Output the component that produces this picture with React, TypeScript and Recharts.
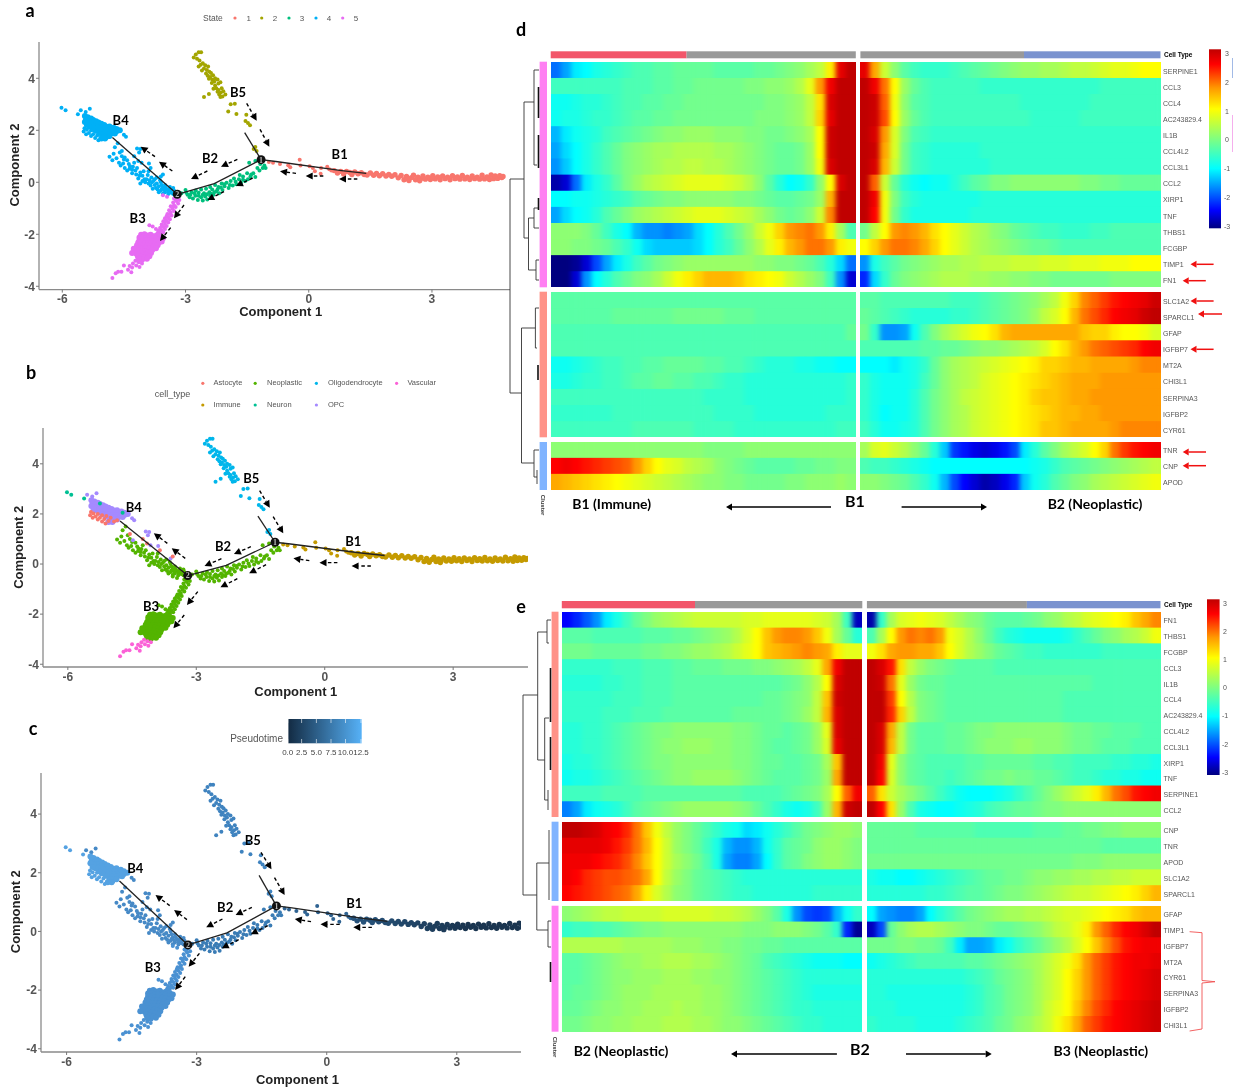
import React from "react";
import {
  ScatterChart,
  Scatter,
  XAxis,
  YAxis,
  ReferenceDot,
} from "recharts";

type Pair = [number, number];

// ---- trajectory cells, [component 1, component 2] ----
const b1Ribbon: Pair[] = [
  [0.62,0.45],[0.7,0.36],[0.78,0.42],[0.85,0.32],[0.92,0.42],[1.0,0.38],[1.05,0.3],[1.12,0.4],[1.2,0.33],[1.28,0.37],
  [1.35,0.3],[1.42,0.28],[1.5,0.36],[1.58,0.27],[1.65,0.34],[1.72,0.25],[1.8,0.33],[1.88,0.24],[1.95,0.3],[2.02,0.23],
  [2.1,0.29],[2.18,0.17],[2.25,0.26],[2.32,0.1],[2.38,0.22],[2.44,0.07],[2.5,0.18],[2.55,0.27],[2.6,0.1],[2.66,0.2],
  [2.72,0.13],[2.78,0.24],[2.84,0.12],[2.9,0.2],[2.96,0.11],[3.02,0.25],[3.08,0.13],[3.14,0.21],[3.2,0.1],[3.26,0.24],
  [3.32,0.14],[3.38,0.2],[3.44,0.1],[3.5,0.25],[3.56,0.14],[3.62,0.21],[3.68,0.12],[3.74,0.26],[3.8,0.13],[3.86,0.2],
  [3.92,0.11],[3.98,0.24],[4.04,0.14],[4.1,0.2],[4.16,0.12],[4.22,0.27],[4.28,0.13],[4.34,0.21],[4.4,0.11],[4.44,0.28],
  [4.5,0.14],[4.54,0.24],[4.6,0.15],[4.65,0.25],[4.7,0.18],[4.73,0.22],[2.4,0.14],[2.7,0.06],[3.0,0.17],[3.6,0.17],
];
const b1Sparse: Pair[] = [
  [-0.97,0.78],[-0.87,0.75],[-0.7,0.7],[-0.5,0.66],[-0.45,0.58],[-0.22,0.87],[-0.2,0.65],[0.02,0.62],[0.1,0.55],[0.15,0.42],
  [0.29,0.33],[0.3,0.55],[0.45,0.6],[0.5,0.5],[0.55,0.45],
];
const b5Top: Pair[] = [
  [-2.8,4.8],[-2.75,4.92],[-2.68,5],[-2.62,5],[-2.72,4.75],[-2.66,4.68],[-2.63,4.52],[-2.68,4.45],[-2.58,4.58],[-2.52,4.5],
  [-2.55,4.38],[-2.6,4.3],[-2.48,4.32],[-2.45,4.45],[-2.42,4.25],[-2.5,4.18],[-2.46,4.1],[-2.4,4.05],[-2.38,4.2],[-2.33,4.12],
  [-2.43,3.98],[-2.35,3.95],[-2.3,3.88],[-2.28,4],[-2.22,3.95],[-2.36,3.82],[-2.28,3.72],[-2.2,3.8],[-2.15,3.85],[-2.25,3.62],
  [-2.32,3.6],[-2.2,3.55],[-2.12,3.62],[-2.22,3.48],[-2.14,3.45],[-2.08,3.5],[-2.18,3.38],[-2.1,3.3],[-2.03,3.38],[-2.15,3.28],
  [-2.55,3.28],[-2.43,3.4],
];
const b5Sparse: Pair[] = [
  [-1.9,3],[-1.8,3.02],[-1.96,2.72],[-1.76,2.63],[-1.52,2.6],[-1.54,2.36],[-1.43,2.19],[-1.48,2.28],[-1.3,1.36],[-1.27,1.2],[-1.34,1.28],
];
const b4Dense: Pair[] = [
  [-5.45,2.55],[-5.38,2.5],[-5.42,2.42],[-5.35,2.38],[-5.3,2.45],[-5.25,2.4],[-5.32,2.28],[-5.25,2.3],[-5.18,2.35],[-5.12,2.3],
  [-5.2,2.22],[-5.12,2.2],[-5.05,2.25],[-4.98,2.2],[-5.05,2.12],[-4.92,2.14],[-4.85,2.15],[-4.98,2.05],[-4.9,2.05],[-4.82,2.06],
  [-4.75,2.1],[-4.68,2.05],[-4.6,2],[-4.75,2],[-4.68,1.96],[-4.84,1.95],[-4.92,1.95],[-5,1.95],[-5.08,2],[-5.15,2.1],
  [-5.28,2.18],[-5.38,2.28],[-5.45,2.32],[-5.02,1.85],[-4.94,1.86],[-4.86,1.86],[-4.78,1.9],[-4.72,1.88],[-5,1.76],[-4.92,1.78],
  [-4.85,1.78],[-5.1,1.9],[-5.18,1.98],[-5.25,2.05],[-5.33,2.15],[-5.4,2.2],[-5.05,1.68],[-4.96,1.68],
];
const b4Lower: Pair[] = [
  [-5.48,1.95],[-5.46,2.08],[-5.4,2.02],[-5.35,1.9],[-5.3,2],[-5.25,1.85],[-5.2,1.95],[-5.15,1.8],[-5.1,1.92],[-5.05,1.72],
  [-5,1.85],[-4.92,1.7],[-4.85,1.75],[-5.3,1.78],[-5.42,1.85],[-5.2,1.7],[-5.12,1.62],
];
const b4OnPath: Pair[] = [[-4.55,1.2],[-4.15,0.82],[-3.85,0.55],[-3.55,0.3],[-4.25,1]];
const b4Neuron: Pair[] = [[-6.02,2.87],[-5.92,2.77],[-5.62,2.62],[-5.25,2.42],[-4.72,2.05]];
const b4Opc: Pair[] = [
  [-5.55,2.77],[-5.33,2.83],[-5.43,2.7],[-4.5,1.83],[-4.45,1.75],[-4.18,1.3],[-4.1,1.28],[-4.13,1.15],[-4.07,0.75],[-3.89,0.72],
  [-4.48,0.95],[-3.6,0.22],
];
const b4Spread: Pair[] = [
  [-4.72,1.35],[-4.65,1.5],[-4.75,1.1],[-4.85,0.98],[-4.78,0.85],[-4.68,0.92],[-4.6,1.15],[-4.55,1],[-4.5,0.88],[-4.62,0.75],
  [-4.52,0.72],[-4.42,0.85],[-4.38,0.7],[-4.48,0.55],[-4.36,0.52],[-4.28,0.6],[-4.22,0.45],[-4.3,0.35],[-4.2,0.3],[-4.1,0.38],
  [-4.05,0.25],[-4.15,0.15],[-4,0.12],[-3.92,0.28],[-3.88,0.08],[-3.98,0],[-3.82,0],[-3.75,0.12],[-3.7,-0.05],[-3.85,-0.12],
  [-3.65,-0.15],[-3.6,0],[-3.55,-0.2],[-3.72,-0.22],[-3.5,-0.1],[-3.45,-0.28],[-3.6,-0.32],[-3.38,-0.18],[-3.35,-0.4],[-3.5,-0.38],
  [-3.28,-0.32],[-3.42,-0.45],[-3.25,-0.5],[-3.65,-0.38],[-3.55,-0.44],[-3.8,-0.25],[-4.1,-0.05],[-4.02,0.42],[-3.9,0.42],[-4.25,0.75],
  [-3.4,-0.28],[-3.3,-0.22],[-3.48,-0.2],[-3.58,-0.1],[-3.68,-0.28],[-3.42,-0.35],[-3.75,-0.1],[-3.62,0.08],[-3.78,0.05],[-3.9,-0.05],
  [-3.95,0.12],[-4.05,0.05],[-4.12,0.25],[-3.83,0.18],[-3.7,0.18],[-3.52,-0.3],[-3.35,-0.3],[-3.3,-0.45],[-3.58,-0.26],[-4.35,0.62],
  [-4.42,0.45],[-4.58,0.65],[-4.3,0.48],[-4.18,0.55],
];
const b2Pts: Pair[] = [
  [-3.1,-0.42],[-3,-0.3],[-2.95,-0.48],[-2.9,-0.58],[-2.85,-0.38],[-2.82,-0.62],[-2.75,-0.32],[-2.76,-0.52],[-2.7,-0.68],[-2.68,-0.4],
  [-2.62,-0.28],[-2.62,-0.58],[-2.58,-0.7],[-2.55,-0.42],[-2.5,-0.25],[-2.52,-0.55],[-2.47,-0.66],[-2.42,-0.38],[-2.4,-0.18],[-2.4,-0.52],
  [-2.35,-0.28],[-2.32,-0.48],[-2.28,-0.1],[-2.25,-0.35],[-2.2,-0.18],[-2.18,-0.42],[-2.12,-0.05],[-2.1,-0.3],[-2.05,-0.15],[-2,-0.02],
  [-1.95,-0.22],[-1.9,0.05],[-1.85,-0.12],[-1.82,0.15],[-1.78,0.02],[-1.7,0.12],[-1.68,0.28],[-1.65,-0.02],[-1.6,0.22],[-1.55,0.05],
  [-1.5,0.35],[-1.42,0.22],[-1.35,0.35],[-1.3,0.2],[-1.45,0.75],[-1.25,0.55],[-1.2,0.45],[-1.12,0.55],[-1.08,0.65],[-1.18,0.7],[-1.3,0.82],[-1.05,0.55],
  [-2.98,-0.4],[-2.88,-0.48],[-2.78,-0.42],[-2.68,-0.52],[-2.58,-0.48],[-2.48,-0.46],[-2.38,-0.44],[-2.3,-0.38],[-2.22,-0.28],[-2.14,-0.2],
  [-2.06,-0.08],[-1.92,-0.1],[-1.76,-0.08],[-1.6,0.1],[-1.48,0.12],[-1.4,0.3],
];
const b3Stem: Pair[] = [
  [-3.2,-0.58],[-3.28,-0.62],[-3.15,-0.68],[-3.22,-0.72],[-3.3,-0.78],[-3.18,-0.82],[-3.28,-0.88],[-3.36,-0.92],[-3.24,-0.95],[-3.32,-1.02],
  [-3.4,-1.08],[-3.28,-1.1],[-3.36,-1.16],[-3.44,-1.22],[-3.34,-1.28],[-3.42,-1.34],[-3.5,-1.38],[-3.38,-1.42],[-3.46,-1.48],[-3.54,-1.5],
  [-3.42,-1.55],[-3.5,-1.6],[-3.58,-1.62],[-3.46,-1.68],[-3.54,-1.72],[-3.62,-1.76],[-3.5,-1.8],[-3.58,-1.85],[-3.66,-1.86],[-3.54,-1.92],
  [-3.62,-1.96],[-3.72,-1.8],[-3.8,-1.7],[-3.88,-1.65],[-3.45,-0.56],[-3.55,-0.5],[-3.24,-0.66],[-3.32,-0.95],[-3.38,-1.22],[-3.46,-1.3],
  [-3.5,-1.5],[-3.58,-1.7],[-3.6,-1.9],[-3.68,-1.95],
];
const b3Dense: Pair[] = [
  [-4.08,-2.02],[-4,-2],[-3.92,-2.05],[-3.85,-2.02],[-3.78,-2.08],[-3.7,-2.05],[-3.62,-2.1],[-3.55,-2.15],[-4.12,-2.12],[-4.04,-2.12],
  [-3.96,-2.14],[-3.88,-2.14],[-3.8,-2.16],[-3.72,-2.16],[-3.64,-2.2],[-3.58,-2.28],[-4.12,-2.22],[-4.04,-2.22],[-3.96,-2.24],[-3.88,-2.24],
  [-3.8,-2.26],[-3.72,-2.28],[-3.65,-2.32],[-4.15,-2.32],[-4.07,-2.32],[-3.99,-2.34],[-3.91,-2.34],[-3.83,-2.36],[-3.75,-2.38],[-3.68,-2.42],
  [-4.18,-2.42],[-4.1,-2.42],[-4.02,-2.44],[-3.94,-2.44],[-3.86,-2.46],[-3.78,-2.48],[-3.72,-2.54],[-4.2,-2.54],[-4.12,-2.52],[-4.05,-2.54],
  [-3.97,-2.54],[-3.89,-2.56],[-3.81,-2.6],[-4.22,-2.64],[-4.14,-2.62],[-4.06,-2.64],[-3.98,-2.66],[-3.9,-2.68],[-3.84,-2.72],[-4.2,-2.74],
  [-4.12,-2.72],[-4.04,-2.76],[-3.96,-2.78],[-3.88,-2.84],[-4.16,-2.84],[-4.08,-2.86],[-4,-2.9],[-3.94,-2.94],[-4.06,-2.98],[-4.14,-2.94],
  [-4.26,-2.56],[-4.3,-2.72],
];
const b3Tail: Pair[] = [
  [-4.78,-3.68],[-4.7,-3.5],[-4.64,-3.44],[-4.5,-3.2],[-4.56,-3.44],[-4.4,-3.36],[-4.32,-3.46],[-4.36,-3.22],[-4.3,-3.28],[-4.28,-3.12],
  [-4.22,-3.02],[-4.2,-3.2],[-4.14,-3.08],[-4.06,-3.12],[-4.12,-3.26],
];

// principal graph
const graphB1: Pair[] = [[-1.16,0.87],[-0.8,0.8],[0.8,0.45],[1.4,0.34]];
const graphB2: Pair[] = [[-1.16,0.87],[-2.3,-0.05],[-3.2,-0.46]];
const graphB4: Pair[] = [[-3.2,-0.46],[-4.78,1.72]];
const graphB5: Pair[] = [[-1.16,0.87],[-1.56,1.91]];

const compTicksX = [-6, -3, 0, 3];
const compTicksY = [-4, -2, 0, 2, 4];

// ---- heatmap d, three gene clusters, left and right of the branch point ----
const dGenes1 = ["SERPINE1","CCL3","CCL4","AC243829.4","IL1B","CCL4L2","CCL3L1","CCL2","XIRP1","TNF","THBS1","FCGBP","TIMP1","FN1"];
const dGenes2 = ["SLC1A2","SPARCL1","GFAP","IGFBP7","MT2A","CHI3L1","SERPINA3","IGFBP2","CYR61"];
const dGenes3 = ["TNR","CNP","APOD"];

const d1Left = [
  [-1.8,-1.5,-1.1,-1,-.8,-.7,-.6,-.5,-.4,-.4,-.3,-.3,-.2,-.2,-.2,-.2,-.3,-.3,-.3,-.3,-.2,-.2,-.1,0,.1,.3,.5,1.1,2.7,3],
  [-.5,-.5,-.5,-.5,-.5,-.5,-.5,-.4,-.4,-.4,-.3,-.3,-.2,-.2,-.1,-.1,-.1,-.1,-.1,0,0,.1,.1,.2,.4,.8,1.7,2.6,3,3],
  [-.9,-.9,-.8,-.7,-.7,-.6,-.5,-.4,-.4,-.3,-.3,-.2,-.2,-.1,-.1,-.1,-.1,-.1,-.1,-.1,-.1,0,0,.1,.2,.5,1.2,2.8,3,3],
  [-.9,-.8,-.8,-.7,-.6,-.6,-.5,-.4,-.3,-.3,-.2,-.2,-.1,-.1,-.1,-.1,-.1,-.1,-.1,-.1,0,0,0,.1,.2,.5,1.3,2.7,3,3],
  [-1.4,-1.1,-.9,-.8,-.7,-.5,-.4,-.3,-.2,-.1,0,.1,.1,.2,.2,.2,.1,.1,.1,0,0,-.1,-.1,0,.1,.3,1,2.9,3,3],
  [-1.5,-1.2,-1,-.8,-.6,-.4,-.2,0,.1,.2,.3,.3,.4,.4,.4,.4,.3,.3,.2,.1,0,-.1,-.2,-.2,-.1,.2,1,2.9,3,3],
  [-1.6,-1.3,-1,-.8,-.6,-.4,-.2,0,.1,.2,.3,.4,.4,.5,.5,.4,.4,.3,.2,.1,0,-.1,-.2,-.2,-.1,.2,.9,2.8,3,3],
  [-2.8,-2.6,-1.8,-1.1,-.8,-.6,-.3,0,.2,.4,.5,.6,.7,.8,.8,.8,.8,.7,.6,.4,.1,-.3,-.7,-1,-.9,-.6,.1,1,2.8,3],
  [-1,-1,-.9,-.9,-.8,-.7,-.6,-.5,-.3,-.2,-.1,0,0,.1,.1,.1,.1,.1,0,0,-.1,-.2,-.3,-.3,-.2,-.1,.2,1.5,3,3],
  [-1.5,-1.2,-1,-.9,-.7,-.4,-.2,0,.2,.3,.4,.5,.6,.7,.8,.8,.8,.7,.6,.5,.3,.1,-.1,-.2,-.1,.1,.6,1.8,3,3],
  [.1,.1,.1,0,-.2,-.5,-.8,-1,-1.4,-1.6,-1.6,-1.7,-1.6,-1.5,-1.2,-1,-.7,-.4,-.1,.2,.6,.9,1.3,1.7,1.8,1.9,1.7,1.1,.3,-.4],
  [.1,.1,0,0,-.1,-.2,-.4,-.6,-.9,-1.2,-1.3,-1.3,-1.3,-1.3,-1.2,-1,-.7,-.5,-.2,.1,.4,.8,1.1,1.5,1.7,1.9,1.9,1.7,1.1,.9],
  [-3,-3,-2.9,-2.6,-2,-1.5,-1.1,-.8,-.5,-.3,-.1,0,.1,.2,.2,.2,.2,.2,.2,.2,.1,.1,0,0,-.1,-.2,-.4,-.7,-1.2,-1.8],
  [-3,-3,-2.6,-1.6,-1,-.7,-.4,-.2,0,.1,.3,.6,.9,1.1,1.3,1.5,1.5,1.5,1.4,1.2,1.1,1,.9,.6,.4,.2,0,-.5,-1.6,-2.6],
];
const d1Right = [
  [2.7,1.6,.6,.1,-.3,-.5,-.6,-.6,-.6,-.5,-.4,-.3,-.2,-.1,0,.1,.2,.2,.3,.3,.4,.5,.5,.6,.7,.8,.8,.9,1,1],
  [3,2.6,1.9,1,.2,-.2,-.4,-.5,-.5,-.5,-.5,-.5,-.6,-.6,-.6,-.6,-.6,-.6,-.6,-.6,-.6,-.6,-.6,-.6,-.5,-.5,-.5,-.5,-.5,-.5],
  [3,2.9,2,.9,.1,-.3,-.4,-.5,-.5,-.5,-.5,-.5,-.5,-.5,-.5,-.5,-.6,-.6,-.6,-.6,-.6,-.6,-.6,-.5,-.5,-.5,-.5,-.5,-.5,-.5],
  [3,2.9,2.1,1,.2,-.2,-.4,-.5,-.5,-.5,-.5,-.5,-.5,-.5,-.5,-.5,-.5,-.6,-.6,-.6,-.6,-.6,-.5,-.5,-.5,-.5,-.5,-.5,-.5,-.5],
  [3,2.8,1.7,.7,0,-.4,-.5,-.6,-.6,-.6,-.6,-.6,-.6,-.6,-.6,-.6,-.6,-.6,-.6,-.6,-.6,-.6,-.6,-.6,-.6,-.6,-.6,-.6,-.6,-.6],
  [3,2.9,1.6,.7,-.1,-.5,-.6,-.7,-.7,-.7,-.7,-.7,-.6,-.6,-.6,-.6,-.6,-.6,-.6,-.6,-.6,-.6,-.6,-.6,-.6,-.6,-.6,-.6,-.6,-.6],
  [3,2.8,1.5,.6,-.1,-.5,-.6,-.7,-.7,-.7,-.7,-.7,-.7,-.6,-.6,-.6,-.6,-.6,-.6,-.6,-.6,-.6,-.6,-.6,-.6,-.6,-.6,-.6,-.6,-.6],
  [3,2,.6,-.2,-.7,-.9,-1,-.9,-.9,-.7,-.5,-.3,-.2,0,0,.1,.1,.1,.1,.1,.1,.1,0,0,-.1,-.1,-.2,-.2,-.2,-.2],
  [3,2.6,.9,0,-.5,-.7,-.8,-.8,-.8,-.8,-.8,-.8,-.7,-.7,-.7,-.7,-.7,-.7,-.7,-.7,-.7,-.7,-.7,-.7,-.7,-.7,-.7,-.7,-.7,-.7],
  [3,2.5,.9,-.1,-.6,-.8,-.8,-.8,-.8,-.8,-.8,-.7,-.7,-.7,-.7,-.7,-.7,-.7,-.7,-.7,-.7,-.7,-.7,-.7,-.7,-.7,-.7,-.7,-.7,-.7],
  [-.1,.5,1,1.7,1.8,1.7,1.5,1.2,1,.8,.6,.4,.3,.1,0,-.2,-.3,-.4,-.5,-.5,-.6,-.6,-.6,-.5,-.5,-.4,-.4,-.4,-.4,-.4],
  [1,1.3,1.7,1.9,1.9,1.8,1.6,1.3,1,.8,.6,.4,.3,.2,.1,0,-.1,-.2,-.2,-.3,-.4,-.4,-.4,-.4,-.4,-.4,-.4,-.4,-.4,-.4],
  [-1.6,-.8,-.5,-.3,-.1,0,.1,.2,.3,.3,.4,.4,.5,.5,.5,.6,.6,.6,.7,.7,.7,.8,.8,.8,.9,.9,.9,1,1,1],
  [-2.2,-1.2,-.6,-.2,0,.1,.2,.3,.4,.4,.4,.3,.3,.2,.2,.1,.1,0,0,-.1,-.1,-.1,-.1,-.1,-.1,0,0,0,0,0],
];
const d2Left = [
  [-.3,-.3,-.3,-.3,-.3,-.3,-.3,-.3,-.3,-.3,-.3,-.3,-.3,-.3,-.3,-.3,-.3,-.3,-.3,-.3,-.3,-.3,-.3,-.3,-.3,-.3,-.3,-.3,-.3,-.3],
  [-.3,-.3,-.3,-.3,-.3,-.3,-.2,-.2,-.2,-.2,-.2,-.2,-.1,-.1,-.1,-.1,-.1,-.2,-.2,-.2,-.3,-.3,-.3,-.3,-.3,-.3,-.3,-.3,-.3,-.3],
  [-.4,-.4,-.4,-.4,-.4,-.4,-.4,-.4,-.4,-.4,-.4,-.4,-.4,-.4,-.4,-.4,-.4,-.4,-.4,-.4,-.4,-.4,-.4,-.4,-.4,-.4,-.4,-.4,-.4,-.2],
  [-.4,-.4,-.4,-.4,-.4,-.4,-.4,-.4,-.4,-.4,-.4,-.4,-.4,-.4,-.4,-.4,-.4,-.4,-.4,-.4,-.4,-.4,-.4,-.4,-.4,-.4,-.4,-.4,-.4,-.4],
  [-.9,-.9,-.8,-.7,-.6,-.5,-.5,-.4,-.4,-.3,-.3,-.2,-.2,-.2,-.2,-.3,-.3,-.4,-.4,-.5,-.6,-.7,-.7,-.7,-.8,-.8,-.9,-.9,-1,-1],
  [-.8,-.8,-.7,-.6,-.6,-.5,-.5,-.4,-.3,-.3,-.2,-.2,-.3,-.3,-.4,-.4,-.5,-.6,-.6,-.7,-.7,-.7,-.7,-.7,-.7,-.7,-.7,-.7,-.7,-.6],
  [-.5,-.5,-.5,-.5,-.5,-.5,-.5,-.5,-.5,-.5,-.5,-.5,-.5,-.5,-.5,-.6,-.6,-.6,-.6,-.7,-.7,-.7,-.7,-.7,-.7,-.7,-.7,-.7,-.7,-.6],
  [-.6,-.6,-.6,-.6,-.6,-.6,-.5,-.5,-.5,-.5,-.5,-.5,-.5,-.5,-.5,-.5,-.6,-.6,-.6,-.6,-.7,-.7,-.7,-.7,-.7,-.7,-.7,-.6,-.6,-.6],
  [-.5,-.5,-.5,-.5,-.5,-.5,-.5,-.5,-.4,-.4,-.4,-.4,-.4,-.4,-.5,-.5,-.5,-.5,-.6,-.6,-.6,-.6,-.6,-.6,-.6,-.6,-.6,-.6,-.5,-.5],
];
const d2Right = [
  [-.3,-.3,-.4,-.4,-.4,-.4,-.4,-.4,-.4,-.5,-.5,-.5,-.4,-.3,-.2,-.1,0,.1,.3,.5,.9,1.3,1.8,2,2.2,2.4,2.5,2.6,2.7,2.9],
  [-.2,-.3,-.4,-.5,-.6,-.7,-.7,-.7,-.7,-.6,-.6,-.5,-.4,-.3,-.2,-.1,0,.2,.5,.7,1,1.5,1.9,2.1,2.3,2.5,2.6,2.7,2.9,3],
  [-.1,-.6,-1.6,-1.6,-1.5,-.9,-.4,0,.3,.5,.7,.9,1,1.2,1.5,1.6,1.6,1.6,1.6,1.6,1.6,1.6,1.4,1.3,1.3,1.1,1,1,.9,.7],
  [-.4,-.4,-.4,-.4,-.4,-.4,-.3,-.3,-.2,-.2,-.1,0,.1,.1,.2,.3,.4,.5,.7,1,1.2,1.5,1.7,1.9,2,2.1,2.2,2.3,2.5,2.6],
  [-1,-1,-1,-1.1,-.9,-.8,-.6,-.2,.1,.3,.4,.5,.6,.7,.8,.9,1,1.1,1.3,1.3,1.4,1.5,1.5,1.6,1.6,1.6,1.6,1.7,1.8,1.8],
  [-.6,-.8,-.9,-.9,-.9,-.8,-.5,-.2,.1,.3,.4,.5,.7,.8,.9,1,1.1,1.2,1.3,1.4,1.5,1.6,1.6,1.6,1.7,1.7,1.7,1.7,1.7,1.7],
  [-.6,-.8,-.9,-.9,-.9,-.7,-.4,-.1,.1,.3,.5,.6,.7,.8,.9,1,1.1,1.3,1.4,1.4,1.5,1.6,1.6,1.7,1.7,1.7,1.7,1.7,1.7,1.7],
  [-.6,-.8,-1,-.9,-.9,-.7,-.4,-.1,.1,.3,.4,.6,.7,.8,.9,1,1.1,1.2,1.3,1.4,1.5,1.5,1.6,1.6,1.7,1.7,1.7,1.7,1.7,1.7],
  [-.5,-.7,-.9,-.9,-.8,-.7,-.4,-.1,.1,.3,.4,.6,.7,.8,.9,1,1.1,1.2,1.4,1.4,1.5,1.6,1.6,1.6,1.6,1.7,1.8,1.8,1.8,1.8],
];
const d3Left = [
  [.1,.1,.1,.1,.1,.1,.1,.1,.1,.1,.1,.1,.1,.1,.1,0,0,0,0,.1,.1,.1,.1,.1,.1,.1,.1,.1,.1,.1],
  [2.5,2.6,2.5,2.4,2.3,2.2,2.1,2,1.7,1.3,1,.8,.7,.5,.4,.3,.1,0,-.1,-.2,-.3,-.3,-.3,-.3,-.2,-.2,-.1,-.1,0,0],
  [1.6,1.5,1.4,1.3,1.2,1.1,1,.9,.8,.7,.6,.5,.4,.3,.2,.1,.1,0,0,-.1,-.1,-.1,-.1,0,0,.1,.1,.1,.2,.1],
];
const d3Right = [
  [.3,.7,.8,.6,.4,.1,-.2,-.7,-1.3,-2.1,-2.3,-2.5,-2.6,-2.5,-2.3,-2,-1.1,-.7,-.3,0,.3,.5,.7,1,1.3,1.9,2.2,2.4,2.5,2.6],
  [-.4,-.5,-.5,-.6,-.7,-.8,-.9,-1,-1,-1,-1,-1,-1,-1,-1,-1,-1,-.9,-.8,-.6,-.4,-.3,-.2,-.1,0,.1,.2,.3,.4,.5],
  [.1,.1,0,-.1,-.2,-.4,-.6,-.9,-1.4,-2,-2.4,-2.6,-2.8,-2.7,-2.5,-2.2,-1.3,-.9,-.7,-.4,-.2,0,.1,.3,.4,.5,.6,.7,.8,.9],
];

// ---- heatmap e ----
const eGenes1 = ["FN1","THBS1","FCGBP","CCL3","IL1B","CCL4","AC243829.4","CCL4L2","CCL3L1","XIRP1","TNF","SERPINE1","CCL2"];
const eGenes2 = ["CNP","TNR","APOD","SLC1A2","SPARCL1"];
const eGenes3 = ["GFAP","TIMP1","IGFBP7","MT2A","CYR61","SERPINA3","IGFBP2","CHI3L1"];

const e1Left = [
  [-2.4,-2.2,-1.9,-1.6,-1.1,-.8,-.5,-.2,0,.2,.3,.4,.5,.6,.6,.6,.6,.6,.7,.7,.8,.8,.8,.8,.8,.7,.6,.3,-.5,-2.7],
  [-.3,-.3,-.3,-.4,-.4,-.4,-.4,-.4,-.3,-.3,-.3,-.2,-.2,-.1,0,.1,.2,.4,.7,1,1.4,1.7,1.8,1.8,1.7,1.4,.9,.3,-.2,-.7],
  [-.1,-.1,-.1,-.2,-.2,-.2,-.2,-.2,-.1,-.1,0,0,.1,.2,.2,.3,.4,.6,.8,1,1.4,1.5,1.6,1.7,1.8,1.7,1.6,1.1,.8,.8],
  [-.6,-.6,-.6,-.6,-.6,-.5,-.5,-.5,-.4,-.4,-.4,-.3,-.3,-.2,-.2,-.2,-.1,-.1,-.1,0,0,.1,.2,.3,.5,.8,1.6,2.6,3,3],
  [-.7,-.7,-.7,-.7,-.6,-.6,-.5,-.5,-.4,-.4,-.4,-.3,-.3,-.3,-.3,-.3,-.3,-.3,-.3,-.3,-.3,-.3,-.2,-.1,.1,.4,1,2.8,3,3],
  [-.6,-.6,-.6,-.6,-.6,-.5,-.5,-.5,-.4,-.4,-.4,-.3,-.3,-.3,-.3,-.3,-.3,-.3,-.3,-.3,-.2,-.2,-.1,0,.1,.5,1.4,2.9,3,3],
  [-.6,-.6,-.6,-.6,-.5,-.5,-.5,-.4,-.4,-.4,-.3,-.3,-.3,-.3,-.3,-.3,-.3,-.2,-.2,-.2,-.2,-.2,-.1,0,.2,.5,1.5,2.8,3,3],
  [-.7,-.7,-.6,-.6,-.5,-.4,-.3,-.2,-.1,0,0,.1,.1,.1,.1,.1,.1,0,0,-.1,-.2,-.2,-.3,-.2,-.1,.2,.8,2.8,3,3],
  [-.7,-.7,-.6,-.6,-.5,-.4,-.3,-.2,-.1,0,.1,.1,.2,.2,.2,.1,.1,0,0,-.1,-.2,-.3,-.3,-.2,-.1,.2,.7,2.7,3,3],
  [-.8,-.7,-.7,-.6,-.5,-.4,-.3,-.2,-.1,0,0,.1,.1,.1,.1,.1,.1,0,0,-.1,-.2,-.2,-.3,-.3,-.2,-.1,.3,1.4,3,3],
  [-.9,-.8,-.8,-.7,-.6,-.5,-.4,-.3,-.2,-.1,0,.1,.1,.2,.2,.2,.2,.1,0,-.1,-.2,-.3,-.3,-.3,-.2,-.1,.2,1.6,3,3],
  [-.5,-.5,-.5,-.5,-.4,-.4,-.4,-.4,-.3,-.3,-.3,-.3,-.3,-.3,-.3,-.3,-.3,-.3,-.4,-.4,-.4,-.4,-.3,-.2,-.1,0,.3,1,2,2.6],
  [-1.7,-1.5,-1.1,-.9,-.8,-.7,-.5,-.3,-.2,-.1,0,.1,.2,.2,.2,.2,.2,.1,0,-.2,-.4,-.6,-.8,-.9,-.8,-.5,.2,1.5,2.9,3],
];
const e1Right = [
  [-2.8,-.6,.3,.7,.8,.9,.8,.7,.5,.3,.1,0,-.2,-.3,-.3,-.3,-.2,-.1,.1,.2,.4,.5,.7,.8,.9,1,1.1,1.4,1.6,1.8],
  [-.4,.3,1,1.7,1.9,1.8,1.9,1.7,.9,.7,.4,.1,-.2,-.5,-.7,-.8,-.9,-.9,-.9,-.9,-.8,-.6,-.4,-.2,0,.1,.3,.4,.6,.9],
  [.9,1.2,1.6,1.7,1.7,1.6,1.6,1.4,1,.7,.4,.2,0,-.2,-.3,-.4,-.5,-.5,-.6,-.6,-.6,-.6,-.6,-.6,-.5,-.5,-.5,-.5,-.5,-.5],
  [3,2.8,2.4,1.2,.5,.2,0,-.1,-.2,-.3,-.3,-.3,-.3,-.4,-.4,-.4,-.4,-.4,-.4,-.4,-.4,-.4,-.4,-.4,-.4,-.4,-.4,-.4,-.4,-.4],
  [3,2.9,1.9,.8,.2,-.1,-.2,-.2,-.3,-.3,-.3,-.3,-.3,-.3,-.3,-.3,-.3,-.3,-.3,-.3,-.3,-.3,-.3,-.4,-.4,-.4,-.4,-.4,-.4,-.4],
  [3,3,2.2,1,.4,0,-.1,-.2,-.3,-.3,-.3,-.3,-.3,-.3,-.3,-.3,-.3,-.3,-.3,-.3,-.4,-.4,-.4,-.4,-.4,-.4,-.4,-.4,-.4,-.4],
  [3,3,2.3,1.3,.5,0,-.1,-.2,-.3,-.3,-.3,-.3,-.3,-.3,-.3,-.3,-.3,-.3,-.3,-.3,-.4,-.4,-.4,-.4,-.4,-.4,-.4,-.4,-.4,-.4],
  [3,2.8,1.6,.5,-.1,-.3,-.3,-.3,-.2,-.2,-.1,0,0,.1,.1,.1,.1,.1,.1,.1,0,-.1,-.1,-.2,-.2,-.3,-.3,-.3,-.4,-.4],
  [3,2.8,1.5,.5,-.1,-.3,-.3,-.3,-.2,-.2,-.1,0,.1,.1,.1,.2,.2,.1,.1,.1,0,-.1,-.1,-.2,-.3,-.3,-.3,-.4,-.4,-.4],
  [3,2.6,.8,.1,-.2,-.3,-.4,-.4,-.4,-.4,-.3,-.3,-.2,-.2,-.2,-.2,-.2,-.3,-.3,-.4,-.4,-.5,-.5,-.5,-.5,-.6,-.6,-.7,-.7,-.8],
  [3,2.5,.7,.1,-.2,-.3,-.4,-.4,-.5,-.4,-.3,-.2,-.1,-.1,0,-.1,-.1,-.2,-.2,-.3,-.4,-.5,-.5,-.6,-.7,-.7,-.8,-.8,-.9,-.9],
  [2,1.2,.6,.3,.1,-.1,-.3,-.5,-.7,-.9,-1,-1,-1,-.9,-.8,-.6,-.4,-.2,0,.2,.4,.6,.8,1.1,1.5,1.9,2.1,2.4,2.5,2.6],
  [3,2.5,1.2,.2,-.4,-.8,-.9,-1,-1,-.9,-.8,-.7,-.5,-.4,-.3,-.2,-.2,-.1,0,0,.1,.1,.1,.1,.1,.1,.1,.1,.1,.1],
];
const e2Left = [
  [3,3,2.9,2.8,2.6,2.5,2.3,1.9,1.4,.9,.5,.2,0,-.2,-.4,-.6,-.8,-.9,-1.2,-1.1,-.9,-.7,-.5,-.3,-.1,0,.1,.2,.2,.1],
  [2.7,2.7,2.7,2.7,2.6,2.4,2.2,1.9,1.5,1,.6,.2,0,-.2,-.5,-.8,-1.4,-1.6,-1.6,-1.4,-.9,-.6,-.3,-.2,-.1,.1,.2,.2,.1,0],
  [2.6,2.6,2.6,2.5,2.4,2.3,2.1,1.8,1.4,1,.6,.3,.1,-.1,-.4,-.8,-1.5,-1.7,-1.7,-1.5,-1,-.6,-.3,-.2,0,.1,.2,.2,.1,0],
  [2.6,2.5,2.3,2.2,2.1,2.1,2,1.9,1.6,1,.5,.2,0,-.2,-.3,-.4,-.5,-.6,-.7,-.7,-.7,-.7,-.7,-.7,-.7,-.7,-.7,-.7,-.7,-.7],
  [2.5,2.4,2.3,2.2,2.1,2,1.9,1.6,1.1,.7,.4,.1,0,-.2,-.3,-.4,-.5,-.6,-.6,-.7,-.7,-.7,-.7,-.7,-.7,-.6,-.6,-.6,-.6,-.6],
];
const e2Right = [
  [-.2,-.2,-.2,-.2,-.2,-.3,-.3,-.3,-.3,-.3,-.3,-.4,-.4,-.4,-.4,-.4,-.4,-.3,-.3,-.3,-.2,-.2,-.1,-.1,0,0,.1,.1,.1,.1],
  [-.2,-.2,-.2,-.2,-.2,-.2,-.2,-.2,-.2,-.2,-.2,-.2,-.2,-.2,-.2,-.2,-.2,-.2,-.2,-.2,-.2,-.2,-.2,-.2,-.3,-.3,-.3,-.3,-.3,-.3],
  [-.1,-.1,-.1,-.1,-.1,-.1,-.1,-.1,-.1,-.1,-.1,-.1,-.1,-.1,-.1,-.1,-.1,-.1,-.1,-.1,-.1,0,0,0,.1,.1,.1,.1,.1,.1],
  [-.8,-.9,-.9,-1,-1,-.9,-.8,-.7,-.6,-.5,-.4,-.3,-.2,-.2,-.1,-.1,0,.1,.1,.2,.2,.3,.3,.4,.4,.5,.5,.6,.6,.6],
  [-.7,-.7,-.7,-.7,-.7,-.7,-.6,-.6,-.5,-.4,-.3,-.3,-.2,-.1,0,0,.1,.2,.3,.4,.5,.6,.6,.7,.8,.9,1,1.1,1.3,1.5],
];
const e3Left = [
  [.1,.2,.3,.4,.5,.5,.6,.6,.6,.6,.7,.7,.7,.7,.7,.6,.6,.5,.4,.2,0,-.3,-.8,-1.6,-2,-2.1,-2,-1.4,-.9,-.6],
  [-.6,-.5,-.5,-.4,-.4,-.3,-.2,-.1,0,0,.1,.1,.1,.1,.1,.1,.1,.1,0,0,0,.1,.1,.1,0,-.1,-.3,-.6,-2.2,-2.9],
  [.4,.4,.4,.4,.4,.4,.3,.3,.3,.3,.3,.2,.2,.2,.1,.1,0,0,-.1,-.1,-.2,-.2,-.3,-.3,-.3,-.3,-.3,-.3,-.3,-.3],
  [-.3,-.3,-.2,-.1,0,.1,.2,.2,.3,.3,.4,.4,.4,.3,.3,.2,.1,0,-.1,-.2,-.4,-.5,-.6,-.7,-.8,-.9,-.9,-.9,-1,-1],
  [-.3,-.3,-.2,-.1,0,.1,.1,.2,.2,.2,.3,.3,.3,.2,.2,.1,.1,0,-.1,-.2,-.3,-.4,-.5,-.6,-.7,-.7,-.7,-.7,-.7,-.7],
  [-.3,-.2,-.2,-.1,0,.1,.2,.2,.2,.3,.3,.3,.3,.3,.2,.2,.1,0,-.1,-.2,-.3,-.4,-.5,-.6,-.7,-.8,-.8,-.8,-.8,-.8],
  [-.2,-.2,-.1,0,.1,.1,.2,.2,.3,.3,.3,.4,.3,.3,.2,.2,.1,0,-.1,-.2,-.3,-.4,-.5,-.6,-.6,-.7,-.7,-.7,-.7,-.7],
  [-.1,-.1,0,.1,.1,.2,.2,.3,.3,.3,.4,.4,.4,.3,.3,.2,.1,.1,0,-.1,-.2,-.3,-.4,-.5,-.6,-.6,-.7,-.7,-.7,-.7],
];
const e3Right = [
  [-1,-1.5,-1.6,-1.7,-1.7,-1.5,-1,-.7,-.5,-.3,-.1,0,.1,.2,.3,.3,.4,.4,.5,.6,.7,.7,.8,.9,1,1.1,1.2,1.4,1.5,1.5],
  [-2.7,-2,-.2,.1,.3,.4,.4,.3,.2,.1,0,0,-.1,-.2,-.2,-.1,0,.1,.3,.5,.6,.8,1.1,1.7,2,2.3,2.5,2.6,2.8,3],
  [-.1,-.1,-.1,0,0,-.1,-.1,-.2,-.5,-1.1,-1.5,-1.5,-1.4,-1.1,-.9,-.6,-.4,-.2,0,.2,.4,.7,1,1.4,1.8,2.1,2.4,2.5,2.6,2.6],
  [-.9,-.8,-.7,-.6,-.5,-.4,-.4,-.4,-.4,-.4,-.3,-.3,-.2,-.1,0,.1,.2,.3,.5,.7,.9,1.2,1.7,2,2.2,2.4,2.5,2.6,2.6,2.7],
  [-.7,-.7,-.7,-.7,-.7,-.7,-.7,-.7,-.7,-.7,-.6,-.5,-.4,-.2,-.1,0,.1,.3,.5,.7,1,1.3,1.7,2,2.2,2.4,2.5,2.6,2.7,2.8],
  [-.7,-.7,-.8,-.8,-.8,-.8,-.8,-.8,-.8,-.8,-.7,-.6,-.4,-.3,-.1,0,.1,.3,.5,.7,1,1.3,1.7,2,2.2,2.4,2.5,2.6,2.7,2.8],
  [-.7,-.7,-.7,-.8,-.8,-.8,-.8,-.8,-.8,-.8,-.7,-.6,-.4,-.3,-.1,0,.1,.3,.6,.8,1,1.4,1.8,2.1,2.3,2.5,2.6,2.7,2.8,2.9],
  [-.6,-.7,-.7,-.7,-.7,-.8,-.8,-.8,-.8,-.7,-.6,-.5,-.4,-.2,-.1,.1,.2,.4,.6,.9,1.2,1.6,2,2.2,2.4,2.5,2.6,2.7,2.8,2.9],
];

const colorbarTicks = [3, 2, 1, 0, -1, -2, -3];
const pseudotimeTicks = ["0.0", "2.5", "5.0", "7.5", "10.0", "12.5"];

// jet-like ramp of the heatmap colour key
const jetStops: [number, string][] = [
  [-3, "#00007f"], [-2.4, "#0000ff"], [-1.7, "#0080ff"], [-1, "#00ffff"], [0, "#80ff80"],
  [1, "#ffff00"], [1.7, "#ff9900"], [2.5, "#ff0000"], [3, "#c00000"],
];

const hexToRgb = (h: string) => [1, 3, 5].map((i) => parseInt(h.slice(i, i + 2), 16));
const mix = (a: string, b: string, t: number) => {
  const ca = hexToRgb(a);
  const cb = hexToRgb(b);
  return `rgb(${ca.map((c, i) => Math.round(c + (cb[i] - c) * t)).join(",")})`;
};
const jet = (v: number) => {
  for (let i = 1; i < jetStops.length; i++) {
    if (v <= jetStops[i][0]) {
      const [v0, c0] = jetStops[i - 1];
      const [v1, c1] = jetStops[i];
      return mix(c0, c1, (v - v0) / (v1 - v0));
    }
  }
  return jetStops[jetStops.length - 1][1];
};

const SANS = "'Liberation Sans', Arial, sans-serif";
const LATO = "Lato, sans-serif";

const pts = (...lists: Pair[][]) => lists.flat().map(([x, y]) => ({ x, y }));

interface DotSeries {
  key: string;
  data: { x: number; y: number }[];
  fill: string;
  r?: number;
}

interface TrajectoryProps {
  left: number;
  top: number;
  width: number;
  height: number;
  xDomain: [number, number];
  yDomain: [number, number];
  series: DotSeries[];
  ribbon?: { x: number; y: number }[];
  clip?: boolean;
}

// scatter of the monocle trajectory; left/top are the axis corner
const Trajectory: React.FC<TrajectoryProps> = ({ left, top, width, height, xDomain, yDomain, series, ribbon, clip }) => {
  const yw = 34;
  const xh = 22;
  const axis = { stroke: "#8a8a8a", strokeWidth: 1.3 };
  const tick = { fill: "#555", fontSize: 12, fontWeight: 700, fontFamily: SANS };
  const dot = (fill: string, r = 2) => (p: any) => <circle cx={p.cx} cy={p.cy} r={r} fill={fill} />;
  const branch = (g: Pair[], k: string) => (
    <Scatter key={k} data={pts(g)} line={{ stroke: "#222", strokeWidth: 1.3 }} shape={() => <g />} isAnimationActive={false} />
  );
  return (
    <div style={{ position: "absolute", left: left - yw, top }}>
      <ScatterChart width={width + yw} height={height + xh} margin={{ top: 0, right: 0, bottom: 0, left: 0 }}>
        <XAxis type="number" dataKey="x" domain={xDomain} ticks={compTicksX} allowDataOverflow={!!clip} height={xh} axisLine={axis} tickLine={{ stroke: "#777" }} tickSize={3} tick={tick} tickMargin={2} />
        <YAxis type="number" dataKey="y" domain={yDomain} ticks={compTicksY} width={yw} axisLine={axis} tickLine={{ stroke: "#777" }} tickSize={3} tick={tick} tickMargin={1} />
        {series.map((s) => (
          <Scatter key={s.key} data={s.data} shape={dot(s.fill, s.r)} isAnimationActive={false} />
        ))}
        {ribbon && (
          <Scatter
            data={ribbon}
            shape={(p: any) => (
              <circle cx={p.cx} cy={p.cy} r={2.7} fill={mix("#1a3550", "#2a5c88", Math.min(1, Math.max(0, (3.2 - p.payload.x) / 3.2)))} />
            )}
            isAnimationActive={false}
          />
        )}
        {branch(graphB1, "g1")}
        {branch(graphB2, "g2")}
        {branch(graphB4, "g4")}
        {branch(graphB5, "g5")}
        <ReferenceDot x={graphB1[0][0]} y={graphB1[0][1]} r={4.5} fill="#111" stroke="none" label={{ value: "1", position: "center", fill: "#bbb", fontSize: 8, fontWeight: 700 }} />
        <ReferenceDot x={graphB2[2][0]} y={graphB2[2][1]} r={4.5} fill="#111" stroke="none" label={{ value: "2", position: "center", fill: "#bbb", fontSize: 8, fontWeight: 700 }} />
      </ScatterChart>
    </div>
  );
};

interface HeatBlockProps {
  left: number;
  top: number;
  width: number;
  height: number;
  rows: number[][];
  genes?: string[];
}

const HeatBlock: React.FC<HeatBlockProps> = ({ left, top, width, height, rows, genes }) => {
  const nCols = rows[0].length;
  const nRows = rows.length;
  const cw = width / nCols + 0.5;
  const ch = height / nRows + 0.3;
  const data = rows.flatMap((r, row) => r.map((v, col) => ({ col, row, v })));
  const labelW = genes ? 72 : 0;
  const fid = `soft${Math.round(left)}_${Math.round(top)}`;
  const wrap: any = { position: "absolute", left, top, "--soft": `url(#${fid})` };
  return (
    <div className="heat" style={wrap}>
      {/* smooths the columns along pseudotime, keeps the rows crisp */}
      <svg width={0} height={0} style={{ position: "absolute" }}>
        <defs>
          <filter id={fid} filterUnits="userSpaceOnUse" x={0} y={0} width={width} height={height} colorInterpolationFilters="sRGB">
            <feGaussianBlur stdDeviation="2.6 0.5" />
            <feComponentTransfer>
              <feFuncA type="linear" slope={12} />
            </feComponentTransfer>
          </filter>
        </defs>
      </svg>
      <ScatterChart width={width + labelW} height={height} margin={{ top: 0, right: 0, bottom: 0, left: 0 }}>
        <XAxis type="number" dataKey="col" domain={[-0.5, nCols - 0.5]} hide />
        <YAxis
          type="number"
          dataKey="row"
          domain={[-0.5, nRows - 0.5]}
          reversed
          hide={!genes}
          orientation="right"
          width={labelW}
          ticks={rows.map((_, i) => i)}
          interval={0}
          tickFormatter={(i: number) => (genes ? genes[i] : "")}
          axisLine={false}
          tickLine={false}
          tickSize={0}
          tickMargin={3}
          tick={{ fill: "#555", fontSize: 7, fontFamily: SANS, dy: 1 }}
        />
        <Scatter
          data={data}
          isAnimationActive={false}
          shape={(p: any) => (
            <rect x={p.cx - cw / 2} y={p.cy - ch / 2} width={cw} height={ch} fill={jet(p.payload.v)} />
          )}
        />
      </ScatterChart>
    </div>
  );
};

// ---- annotation helpers, overlay coordinates are page pixels ----
const Txt: React.FC<any> = ({ x, y, size = 12, bold, fill = "#000", anchor = "middle", font = SANS, rotate, children }) => (
  <text
    x={x}
    y={y}
    fontSize={size}
    fontWeight={bold ? 700 : 400}
    fill={fill}
    fontFamily={font}
    textAnchor={anchor}
    dominantBaseline="middle"
    transform={rotate ? `rotate(${rotate} ${x} ${y})` : undefined}
  >
    {children}
  </text>
);

const Arrow: React.FC<any> = ({ x1, y1, x2, y2, dash, color = "#000", sw = 1.4, len = 7, half = 3.6 }) => {
  const a = Math.atan2(y2 - y1, x2 - x1);
  const bx = x2 - Math.cos(a) * len;
  const by = y2 - Math.sin(a) * len;
  const nx = -Math.sin(a) * half;
  const ny = Math.cos(a) * half;
  return (
    <g>
      <line x1={x1} y1={y1} x2={bx} y2={by} stroke={color} strokeWidth={sw} strokeDasharray={dash ? "3.5 2.5" : undefined} />
      <polygon points={`${x2},${y2} ${bx + nx},${by + ny} ${bx - nx},${by - ny}`} fill={color} />
    </g>
  );
};

// flow arrows and branch names, in crop units (scale sx, 3) from the panel's origin
const arrowsA = [[740,310,770,362],[780,388,808,440],[888,520,840,514],[970,528,917,528],[1072,537,1017,537],[712,478,663,500],[622,513,573,537],[758,534,708,558],[672,575,622,600],[465,470,422,440],[517,513,477,485],[552,615,522,655],[512,683,480,723]];
const arrowsB = [[768,392,798,443],[808,470,838,520],[915,602,868,595],[998,608,945,608],[1097,618,1040,618],[742,560,692,582],[655,596,605,618],[787,614,737,640],[702,656,652,682],[495,550,455,520],[548,595,508,565],[585,695,553,735],[545,765,513,805]];
const arrowsC = [[772,412,803,463],[812,488,842,540],[920,620,872,612],[1005,628,948,628],[1100,637,1045,637],[745,577,697,600],[658,612,610,637],[792,632,742,658],[706,674,656,700],[502,572,460,540],[553,614,515,585],[590,715,558,755],[548,785,518,825]];
const branchNamesA: [string, number, number][] = [["B5",714,280],["B4",362,365],["B2",630,480],["B1",1019,468],["B3",413,660]];
const branchNamesB: [string, number, number][] = [["B5",743,360],["B4",396,447],["B2",660,562],["B1",1045,548],["B3",447,742]];
const branchNamesC: [string, number, number][] = [["B5",748,380],["B4",400,465],["B2",666,580],["B1",1048,568],["B3",452,762]];

const stateLegend: [string, string, number, number][] = [
  ["1", "#F8766D", 235, 248.7], ["2", "#A3A500", 261.7, 275], ["3", "#00BF7D", 289, 302], ["4", "#00B0F6", 316, 329], ["5", "#E76BF3", 342.7, 356],
];
const cellLegend: [string, string, number, number, number][] = [
  ["Astocyte", "#F8766D", 202.8, 213.6, 383.3], ["Immune", "#C49A00", 202.8, 213.6, 405],
  ["Neoplastic", "#53B400", 255.2, 267, 383.3], ["Neuron", "#00C094", 255.2, 267, 405],
  ["Oligodendrocyte", "#00B6EB", 316.4, 328, 383.3], ["OPC", "#A58AFF", 316.4, 328, 405],
  ["Vascular", "#FB61D7", 396.6, 407.4, 383.3],
];
const pseudoTickX = [287.7, 301.6, 316.4, 331, 345.5, 361];

const redArrowsD = [[1213.6,264.3,1190.5],[1205.8,280.7,1182.7],[1213.6,301,1190.5],[1222,314,1198],[1213.6,349.3,1190.5],[1206,452,1182.7],[1206,465.7,1182.7]];

const dendroD = "M510 179V393M510 179H524M510 393H521.5M524 102V238M524 102H534M534 70V165M534 70H539M534 165H537M524 238H528.5M528.5 218V270M528.5 218H534M534 208V228M534 208H539M534 228H539M528.5 270H536M536 260V280M536 260H539M536 280H539M521.5 328V463M521.5 328H535.4M535.4 308V348M535.4 308H539M535.4 348H537M521.5 463H534M534 450V477M534 450H539M534 477H537M537 470V484";
const dendroDThick = "M538.5 87V118M538.5 135V168M538.5 198V210M538 365V380";
const dendroE = "M523 695V895M523 695H537.7M523 895H536.8M537.7 632V760M537.7 632H547M547 620V643M547 620H551M547 643H549M537.7 760H544.7M544.7 718V800M544.7 718H549M544.7 800H548M548 790V810M536.8 863V930M536.8 863H549M536.8 930H548M549 830V900M548 921V947M548 921H551M548 947H551";
const dendroEThick = "M550.5 668V722M550.5 737V770M550.5 962V982";

const App: React.FC = () => {
  const seriesA: DotSeries[] = [
    { key: "s1", data: pts(b1Sparse), fill: "#F8766D" },
    { key: "s1r", data: pts(b1Ribbon), fill: "#F8766D", r: 2.7 },
    { key: "s2", data: pts(b5Top, b5Sparse), fill: "#A3A500" },
    { key: "s3", data: pts(b2Pts), fill: "#00BF7D" },
    { key: "s4", data: pts(b4Lower, b4OnPath, b4Neuron, b4Opc, b4Spread), fill: "#00B0F6" },
    { key: "s4d", data: pts(b4Dense), fill: "#00B0F6", r: 3 },
    { key: "s5", data: pts(b3Stem, b3Tail), fill: "#E76BF3" },
    { key: "s5d", data: pts(b3Dense), fill: "#E76BF3", r: 3 },
  ];
  const seriesB: DotSeries[] = [
    { key: "imm", data: pts(b1Sparse), fill: "#C49A00" },
    { key: "immr", data: pts(b1Ribbon), fill: "#C49A00", r: 2.7 },
    { key: "neo", data: pts(b2Pts, b4Spread, b3Stem), fill: "#53B400" },
    { key: "neod", data: pts(b3Dense), fill: "#53B400", r: 3 },
    { key: "olg", data: pts(b5Top, b5Sparse), fill: "#00B6EB" },
    { key: "opc", data: pts(b4Opc), fill: "#A58AFF" },
    { key: "opcd", data: pts(b4Dense), fill: "#A58AFF", r: 3 },
    { key: "ast", data: pts(b4Lower, b4OnPath), fill: "#F8766D" },
    { key: "nrn", data: pts(b4Neuron), fill: "#00C094" },
    { key: "vas", data: pts(b3Tail), fill: "#FB61D7" },
  ];
  const seriesC: DotSeries[] = [
    { key: "p1", data: pts(b1Sparse), fill: "#2f6392" },
    { key: "p2", data: pts(b2Pts), fill: "#3a7cb5" },
    { key: "p3", data: pts(b5Top, b5Sparse), fill: "#3f83bf" },
    { key: "p4", data: pts(b4Spread, b4OnPath, b4Opc), fill: "#4689c6" },
    { key: "p5", data: pts(b3Stem, b3Tail), fill: "#4a91d2" },
    { key: "p5d", data: pts(b3Dense), fill: "#4a91d2", r: 3 },
    { key: "p6", data: pts(b4Lower, b4Neuron), fill: "#55a2e2" },
    { key: "p6d", data: pts(b4Dense), fill: "#55a2e2", r: 3 },
  ];

  const flowMarks = (arrows: number[][], names: [string, number, number][], sx: number, oy: number) => (
    <g>
      {arrows.map(([a, b, c, d], i) => (
        <Arrow key={i} x1={a / sx} y1={b / 3 + oy} x2={c / sx} y2={d / 3 + oy} dash />
      ))}
      {names.map(([n, x, y]) => (
        <Txt key={n} x={x / sx} y={y / 3 + oy} size={13} bold font={LATO}>{n}</Txt>
      ))}
    </g>
  );

  return (
    <div style={{ position: "absolute", left: 0, top: 0, width: 1235, height: 1090, background: "#fff", overflow: "hidden", filter: "blur(0.35px)" }}>
      <style>{".heat .recharts-scatter{filter:var(--soft)}"}</style>

      <Trajectory left={38.7} top={41.7} width={471.3} height={247.6} xDomain={[-6.567, 4.907]} yDomain={[-4.127, 5.396]} series={seriesA} />
      <Trajectory left={42.9} top={428.3} width={485.1} height={239} xDomain={[-6.58, 4.75]} yDomain={[-4.11, 5.43]} series={seriesB} />
      <Trajectory left={40.6} top={773.3} width={480.4} height={279} xDomain={[-6.59, 4.49]} yDomain={[-4.11, 5.4]} series={seriesC} ribbon={pts(b1Ribbon)} clip />

      <HeatBlock left={550.7} top={61.7} width={305.1} height={225.6} rows={d1Left} />
      <HeatBlock left={860.4} top={61.7} width={300.1} height={225.6} rows={d1Right} genes={dGenes1} />
      <HeatBlock left={550.7} top={291.7} width={305.1} height={145.6} rows={d2Left} />
      <HeatBlock left={860.4} top={291.7} width={300.1} height={145.6} rows={d2Right} genes={dGenes2} />
      <HeatBlock left={550.7} top={442} width={305.1} height={48} rows={d3Left} />
      <HeatBlock left={860.4} top={442} width={300.1} height={48} rows={d3Right} genes={dGenes3} />

      <HeatBlock left={561.8} top={611.7} width={300.5} height={205.3} rows={e1Left} />
      <HeatBlock left={866.9} top={611.7} width={293.6} height={205.3} rows={e1Right} genes={eGenes1} />
      <HeatBlock left={561.8} top={821.7} width={300.5} height={79.3} rows={e2Left} />
      <HeatBlock left={866.9} top={821.7} width={293.6} height={79.3} rows={e2Right} genes={eGenes2} />
      <HeatBlock left={561.8} top={905.7} width={300.5} height={126} rows={e3Left} />
      <HeatBlock left={866.9} top={905.7} width={293.6} height={126} rows={e3Right} genes={eGenes3} />

      <svg width={1235} height={1090} style={{ position: "absolute", left: 0, top: 0, pointerEvents: "none" }}>
        <defs>
          <linearGradient id="jetKey" x1="0" y1="1" x2="0" y2="0">
            {jetStops.map(([v, c]) => (
              <stop key={v} offset={(v + 3) / 6} stopColor={c} />
            ))}
          </linearGradient>
          <linearGradient id="ptKey" x1="0" y1="0" x2="1" y2="0">
            <stop offset="0" stopColor="#132B43" />
            <stop offset="1" stopColor="#56B1F7" />
          </linearGradient>
        </defs>

        {/* panel letters */}
        <Txt x={30} y={12} size={18} bold font={LATO}>a</Txt>
        <Txt x={31} y={374} size={18} bold font={LATO}>b</Txt>
        <Txt x={33} y={730} size={18} bold font={LATO}>c</Txt>
        <Txt x={521} y={31} size={18} bold font={LATO}>d</Txt>
        <Txt x={521} y={608} size={18} bold font={LATO}>e</Txt>

        {/* axis titles */}
        <Txt x={280.7} y={312.7} size={13} bold fill="#222">Component 1</Txt>
        <Txt x={15.7} y={165} size={13} bold fill="#222" rotate={-90}>Component 2</Txt>
        <Txt x={295.8} y={692.3} size={13} bold fill="#222">Component 1</Txt>
        <Txt x={19.3} y={547.3} size={13} bold fill="#222" rotate={-90}>Component 2</Txt>
        <Txt x={297.5} y={1080.7} size={13} bold fill="#222">Component 1</Txt>
        <Txt x={17} y={911.7} size={13} bold fill="#222" rotate={-90}>Component 2</Txt>

        {flowMarks(arrowsA, branchNamesA, 3, 0)}
        {flowMarks(arrowsB, branchNamesB, 2.958, 360)}
        {flowMarks(arrowsC, branchNamesC, 2.958, 715)}

        {/* legends */}
        <Txt x={203} y={18.5} size={8.5} fill="#555" anchor="start">State</Txt>
        {stateLegend.map(([n, c, dx, tx]) => (
          <g key={n}>
            <circle cx={dx} cy={18} r={1.6} fill={c} />
            <Txt x={tx} y={18.5} size={8} fill="#555" anchor="middle">{n}</Txt>
          </g>
        ))}
        <Txt x={172.4} y={394.3} size={9} fill="#555">cell_type</Txt>
        {cellLegend.map(([n, c, dx, tx, y]) => (
          <g key={n}>
            <circle cx={dx} cy={y} r={1.6} fill={c} />
            <Txt x={tx} y={y} size={7.5} fill="#555" anchor="start">{n}</Txt>
          </g>
        ))}
        <Txt x={283} y={739.3} size={10} fill="#555" anchor="end">Pseudotime</Txt>
        <rect x={288.4} y={719} width={73.3} height={24.3} fill="url(#ptKey)" />
        {pseudotimeTicks.map((t, i) => (
          <g key={t}>
            <line x1={pseudoTickX[i]} x2={pseudoTickX[i]} y1={719} y2={723} stroke="#fff" strokeWidth={0.6} />
            <line x1={pseudoTickX[i]} x2={pseudoTickX[i]} y1={739} y2={743} stroke="#fff" strokeWidth={0.6} />
            <Txt x={pseudoTickX[i]} y={752.7} size={8} fill="#444">{t}</Txt>
          </g>
        ))}

        {/* heatmap d annotation tracks */}
        <rect x={550.7} y={51.3} width={135.9} height={7} fill="#f2566a" />
        <rect x={686.6} y={51.3} width={169.2} height={7} fill="#999" />
        <rect x={860.4} y={51.3} width={163.6} height={7} fill="#999" />
        <rect x={1024} y={51.3} width={136.5} height={7} fill="#7b93cf" />
        <Txt x={1164} y={55.5} size={6.5} bold anchor="start">Cell Type</Txt>
        <rect x={539.6} y={61.7} width={7.4} height={225.6} fill="#ff7ff2" />
        <rect x={539.6} y={291.7} width={7.4} height={145.6} fill="#ff9288" />
        <rect x={539.6} y={442} width={7.4} height={48} fill="#80b4ff" />
        <Txt x={542.5} y={505} size={6} bold fill="#333" rotate={90}>Cluster</Txt>
        <path d={dendroD} fill="none" stroke="#333" strokeWidth={0.9} />
        <path d={dendroDThick} fill="none" stroke="#111" strokeWidth={1.6} />

        {/* heatmap d colour key */}
        <rect x={1209} y={49.3} width={12} height={179} fill="url(#jetKey)" />
        {colorbarTicks.map((t, i) => (
          <Txt key={t} x={1227} y={54 + i * 28.85} size={7} fill="#555">{t}</Txt>
        ))}
        <path d="M1232.5 58V78" stroke="#8aa8e0" strokeWidth={0.8} />
        <path d="M1232.5 115V152" stroke="#f29ae8" strokeWidth={0.8} />

        {redArrowsD.map(([x1, y, x2], i) => (
          <Arrow key={i} x1={x1} y1={y} x2={x2} y2={y} color="#f01010" sw={1.5} len={6} half={3.5} />
        ))}

        <Txt x={611.7} y={505} size={14} bold font={LATO}>B1 (Immune)</Txt>
        <Txt x={855} y={503} size={16} bold font={LATO}>B1</Txt>
        <Txt x={1095} y={505} size={14} bold font={LATO}>B2 (Neoplastic)</Txt>
        <Arrow x1={831} y1={507} x2={726} y2={507} sw={1.5} len={6} half={3.5} />
        <Arrow x1={901.6} y1={507} x2={987} y2={507} sw={1.5} len={6} half={3.5} />

        {/* heatmap e annotation tracks */}
        <rect x={561.8} y={601} width={133.2} height={7.3} fill="#f2566a" />
        <rect x={695} y={601} width={167.3} height={7.3} fill="#999" />
        <rect x={866.9} y={601} width={160} height={7.3} fill="#999" />
        <rect x={1026.9} y={601} width={133.6} height={7.3} fill="#7b93cf" />
        <Txt x={1164} y={605} size={6.5} bold anchor="start">Cell Type</Txt>
        <rect x={551.6} y={611.7} width={6.9} height={205.3} fill="#ff9288" />
        <rect x={551.6} y={821.7} width={6.9} height={79.3} fill="#80b4ff" />
        <rect x={551.6} y={905.7} width={6.9} height={126} fill="#ff7ff2" />
        <Txt x={554.5} y={1047} size={6} bold fill="#333" rotate={90}>Cluster</Txt>
        <path d={dendroE} fill="none" stroke="#333" strokeWidth={0.9} />
        <path d={dendroEThick} fill="none" stroke="#111" strokeWidth={1.6} />

        {/* heatmap e colour key */}
        <rect x={1207} y={599.3} width={12.6} height={175.7} fill="url(#jetKey)" />
        {colorbarTicks.map((t, i) => (
          <Txt key={t} x={1225} y={604 + i * 28.15} size={7} fill="#555">{t}</Txt>
        ))}

        <path d="M1189.6 931.7L1202 932.7V980.5L1215 981.7L1202 983V1029L1189.6 1031" fill="none" stroke="#f05050" strokeWidth={0.9} />

        <Txt x={621} y={1052} size={14} bold font={LATO}>B2 (Neoplastic)</Txt>
        <Txt x={860} y={1050.7} size={16} bold font={LATO}>B2</Txt>
        <Txt x={1100.8} y={1052} size={14} bold font={LATO}>B3 (Neoplastic)</Txt>
        <Arrow x1={836.9} y1={1054} x2={731} y2={1054} sw={1.5} len={6} half={3.5} />
        <Arrow x1={906} y1={1054} x2={991.7} y2={1054} sw={1.5} len={6} half={3.5} />
      </svg>
    </div>
  );
};

export default App;
